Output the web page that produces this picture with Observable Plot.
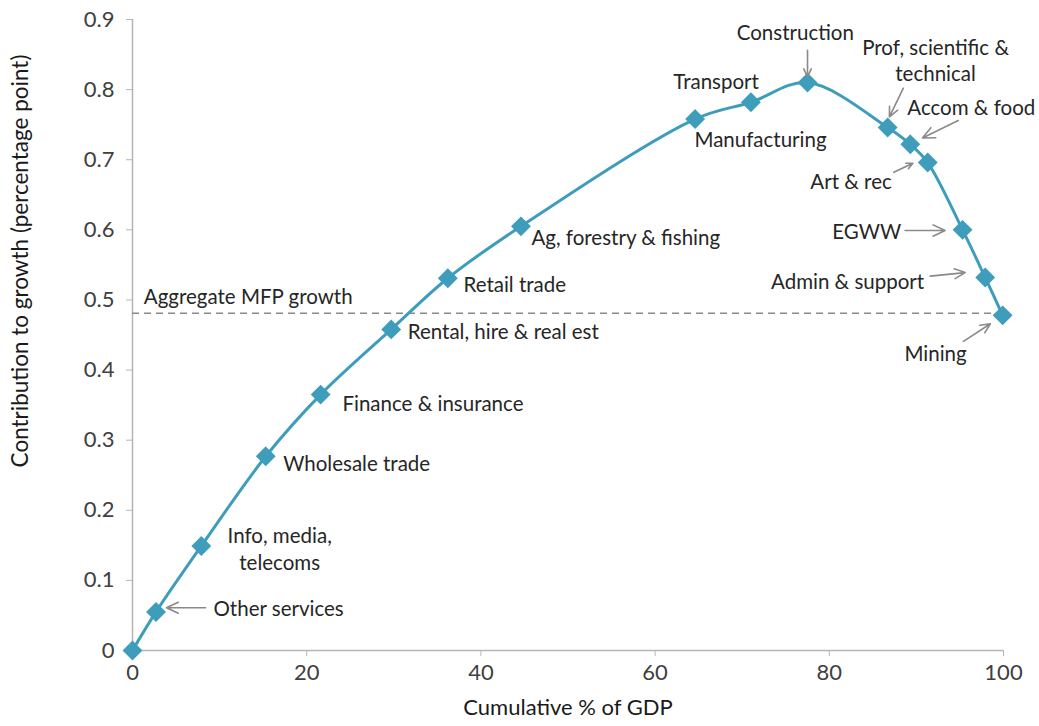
<!DOCTYPE html>
<html>
<head>
<meta charset="utf-8">
<script src="https://cdn.jsdelivr.net/npm/d3@7"></script>
<script src="https://cdn.jsdelivr.net/npm/@observablehq/plot@0.6"></script>
<style>
  body { margin: 0; background: #fff; }
  #chart svg { font-family: Lato, "Open Sans", sans-serif; }
  #chart svg [aria-label$="axis label"] text { fill: #1a1a1a; }
</style>
</head>
<body>
<div id="chart"></div>
<script>
// industries, ordered by cumulative share of GDP
const industries = ['', 'Other services', 'Info, media, telecoms', 'Wholesale trade', 'Finance & insurance',
  'Rental, hire & real est', 'Retail trade', 'Ag, forestry & fishing', 'Manufacturing', 'Transport',
  'Construction', 'Prof, scientific & technical', 'Accom & food', 'Art & rec', 'EGWW',
  'Admin & support', 'Mining']
const cumGdp = [0, 2.7, 7.9, 15.3, 21.6, 29.7, 36.2, 44.6, 64.6, 71.0, 77.5, 86.7, 89.3, 91.3, 95.3, 97.9, 99.9]
const contrib = [0, 0.055, 0.149, 0.277, 0.365, 0.458, 0.531, 0.605, 0.758, 0.782, 0.810, 0.746, 0.722, 0.696, 0.600, 0.532, 0.478]
const aggregateMfp = 0.481

const xTicks = [0, 20, 40, 60, 80, 100]
const yTicks = [0, 0.1, 0.2, 0.3, 0.4, 0.5, 0.6, 0.7, 0.8, 0.9]
const yTitle = 'Contribution to growth (percentage point)'
const xTitle = 'Cumulative % of GDP'

const data = industries.map((name, i) => ({name, x: cumGdp[i], y: contrib[i]}))

// label placement (data coords), anchor and optional arrow
const labels = [
  {text: 'Aggregate MFP growth', x: 1.3, y: 0.507, anchor: 'start'},
  {text: 'Other services', x: 9.3, y: 0.061, anchor: 'start', arrow: [8.4, 0.061, 3.9, 0.061]},
  {text: 'Info, media,\ntelecoms', x: 16.9, y: 0.146, anchor: 'middle'},
  {text: 'Wholesale trade', x: 17.3, y: 0.268, anchor: 'start'},
  {text: 'Finance & insurance', x: 24.1, y: 0.354, anchor: 'start'},
  {text: 'Rental, hire & real est', x: 31.6, y: 0.456, anchor: 'start'},
  {text: 'Retail trade', x: 38.0, y: 0.523, anchor: 'start'},
  {text: 'Ag, forestry & fishing', x: 45.8, y: 0.591, anchor: 'start'},
  {text: 'Transport', x: 67.0, y: 0.813, anchor: 'middle'},
  {text: 'Manufacturing', x: 72.1, y: 0.730, anchor: 'middle'},
  {text: 'Construction', x: 76.1, y: 0.883, anchor: 'middle', arrow: [77.5, 0.856, 77.5, 0.818]},
  {text: 'Prof, scientific &\ntechnical', x: 92.2, y: 0.843, anchor: 'middle', arrow: [88.5, 0.802, 86.9, 0.761]},
  {text: 'Accom & food', x: 96.3, y: 0.776, anchor: 'middle', arrow: [94.8, 0.756, 90.7, 0.731]},
  {text: 'Art & rec', x: 82.5, y: 0.670, anchor: 'middle', arrow: [87.4, 0.682, 89.6, 0.695]},
  {text: 'EGWW', x: 84.3, y: 0.599, anchor: 'middle', arrow: [88.7, 0.599, 93.3, 0.599]},
  {text: 'Admin & support', x: 82.1, y: 0.528, anchor: 'middle', arrow: [91.6, 0.534, 95.6, 0.539]},
  {text: 'Mining', x: 92.2, y: 0.425, anchor: 'middle', arrow: [95.4, 0.441, 98.5, 0.466]}
]
const arrows = labels.filter(d => d.arrow)

const labelStyle = {x: 'x', y: 'y', text: 'text', fill: '#262626', fontSize: 20.5, lineHeight: 1.3}

const chart = Plot.plot({
  width: 1039,
  height: 726,
  marginLeft: 132,
  marginRight: 36,
  marginTop: 19,
  marginBottom: 76,
  style: {fontSize: '20px', color: '#404040', background: '#fff'},
  x: {domain: [0, 100]},
  y: {domain: [0, 0.9]},
  marks: [
    Plot.ruleY([0], {stroke: '#b5b5b5', strokeWidth: 1.5}),
    Plot.ruleX([0], {stroke: '#b5b5b5', strokeWidth: 1.5}),
    Plot.axisX({ticks: xTicks, tickSize: 6, tickPadding: 8, stroke: '#b5b5b5', fontSize: 22,
      label: xTitle, labelAnchor: 'center', labelArrow: 'none', labelOffset: 64}),
    Plot.axisY({ticks: yTicks, tickSize: 6, tickPadding: 12, stroke: '#b5b5b5', fontSize: 22,
      tickFormat: d => d === 0 ? '0' : d3.format('.1f')(d), label: null}),
    Plot.text([yTitle], {frameAnchor: 'left', textAnchor: 'middle', rotate: -90, dx: -112, dy: -74,
      fontSize: 22.5, fill: '#1a1a1a', text: d => d}),
    Plot.ruleY([aggregateMfp], {x1: 0, x2: 100, stroke: '#8a8a8a', strokeWidth: 1.5, strokeDasharray: '7,5'}),
    Plot.line(data, {x: 'x', y: 'y', curve: 'catmull-rom', stroke: '#3f9dbc', strokeWidth: 3}),
    Plot.dot(data, {x: 'x', y: 'y', symbol: 'diamond2', r: 8, fill: '#3f9dbc', stroke: '#3f9dbc'}),
    Plot.arrow(arrows, {x1: d => d.arrow[0], y1: d => d.arrow[1], x2: d => d.arrow[2], y2: d => d.arrow[3],
      stroke: '#8a8a8a', strokeWidth: 1.6, headLength: 14, headAngle: 50}),
    Plot.text(labels.filter(d => d.anchor === 'start'), {...labelStyle, textAnchor: 'start'}),
    Plot.text(labels.filter(d => d.anchor === 'middle'), {...labelStyle, textAnchor: 'middle'})
  ]
})

document.getElementById('chart').append(chart)
</script>
</body>
</html>
